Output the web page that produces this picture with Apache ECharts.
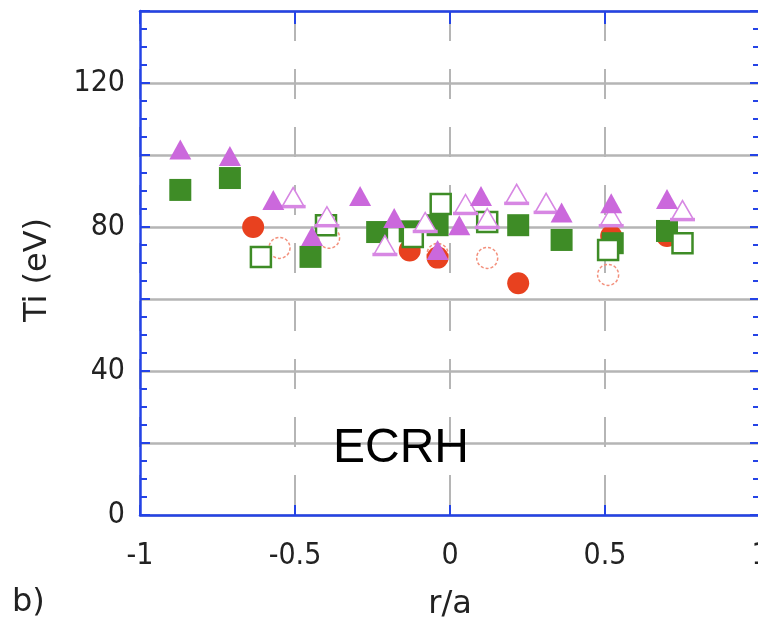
<!DOCTYPE html>
<html>
<head>
<meta charset="utf-8">
<script src="https://cdn.jsdelivr.net/npm/echarts@6/dist/echarts.min.js"></script>
<style>
html,body{margin:0;padding:0;background:#fff;}
#chart{width:758px;height:622px;}
</style>
</head>
<body>
<div id="chart"></div>
<script>
// ---- data (r/a, Ti in eV) ----
const xTickLabels = ['-1', '-0.5', '0', '0.5', '1'];
const yTickLabels = [0, 40, 80, 120];

const filledTriX = [-0.87, -0.71, -0.57, -0.445, -0.29, -0.18, -0.04, 0.03, 0.10, 0.36, 0.52, 0.70];
const filledTriY = [101.5, 99.7, 87.5, 77.5, 88.6, 82.5, 73.6, 80.5, 88.6, 84.0, 86.6, 87.8];

const openTriX = [-0.506, -0.397, -0.21, -0.08, 0.05, 0.12, 0.215, 0.31, 0.52, 0.75];
const openTriY = [88.3, 83.0, 75.0, 81.4, 86.4, 82.5, 89.2, 86.7, 83.0, 84.7];

const filledSqX = [-0.87, -0.71, -0.45, -0.235, -0.13, -0.04, 0.22, 0.36, 0.525, 0.70];
const filledSqY = [90.3, 93.6, 71.7, 78.6, 78.8, 80.5, 80.5, 76.4, 75.5, 78.9];

const openSqX = [-0.61, -0.40, -0.12, -0.03, 0.12, 0.51, 0.75];
const openSqY = [71.7, 80.5, 77.2, 86.4, 81.4, 73.6, 75.5];

const filledCircX = [-0.635, -0.13, -0.04, 0.22, 0.52, 0.70];
const filledCircY = [80.0, 73.5, 71.5, 64.4, 77.5, 77.5];

const openCircX = [-0.55, -0.39, -0.04, 0.12, 0.51];
const openCircY = [74.2, 77.0, 72.5, 71.4, 66.7];

function pairs(xs, ys) { return xs.map((x, i) => [x, ys[i]]); }

const BLUE = '#2443e6';
const GRID = '#b5b5b5';
const VIOLET = '#cb68dc';
const VIOLET_LIGHT = '#d787e3';
const GREEN = '#3e8c26';
const RED = '#e8411f';
const PINK = '#f3907c';

const chart = echarts.init(document.getElementById('chart'), null, {renderer: 'canvas'});

const tickFont = {fontFamily: "'DejaVu Sans Condensed','DejaVu Sans',sans-serif", fontSize: 30, color: '#222'};

const option = {
  animation: false,
  backgroundColor: '#fff',
  grid: {left: 140, top: 11, width: 620, height: 504, show: false, containLabel: false, outerBoundsMode: 'none'},
  xAxis: [
    {
      type: 'value', min: -1, max: 1, interval: 0.5, position: 'bottom',
      axisLine: {show: true, onZero: false, lineStyle: {color: BLUE, width: 2.5}},
      axisTick: {show: true, inside: true, length: 10, lineStyle: {color: BLUE, width: 2}},
      axisLabel: Object.assign({margin: 26, formatter: v => xTickLabels[Math.round((v + 1) * 2)] ?? ''}, tickFont),
      splitLine: {show: true, lineStyle: {color: GRID, width: 2, type: [30, 28]}},
      name: 'r/a', nameLocation: 'middle', nameGap: 74,
      nameTextStyle: {fontFamily: "'DejaVu Sans',sans-serif", fontSize: 32, color: '#222'}
    },
    {
      type: 'value', min: -1, max: 1, interval: 0.5, position: 'top',
      axisLine: {show: true, onZero: false, lineStyle: {color: BLUE, width: 2.5}},
      axisTick: {show: true, inside: true, length: 13, lineStyle: {color: BLUE, width: 2}},
      axisLabel: {show: false}, splitLine: {show: false}
    }
  ],
  yAxis: [
    {
      type: 'value', min: 0, max: 140, interval: 20, position: 'left',
      axisLine: {show: true, onZero: false, lineStyle: {color: BLUE, width: 2.5}},
      axisTick: {show: true, inside: true, length: 10, lineStyle: {color: BLUE, width: 2}},
      minorTick: {show: true, splitNumber: 4, length: 7, lineStyle: {color: BLUE, width: 2}},
      axisLabel: Object.assign({margin: 15, formatter: v => yTickLabels.includes(v) ? String(v) : ''}, tickFont),
      splitLine: {show: true, lineStyle: {color: GRID, width: 2.5}}
    },
    {
      type: 'value', min: 0, max: 140, interval: 20, position: 'right',
      axisLine: {show: true, onZero: false, lineStyle: {color: BLUE, width: 2.5}},
      axisTick: {show: true, inside: true, length: 10, lineStyle: {color: BLUE, width: 2}},
      minorTick: {show: true, splitNumber: 4, length: 7, lineStyle: {color: BLUE, width: 2}},
      axisLabel: {show: false}, splitLine: {show: false}
    }
  ],
  graphic: [
    {type: 'text', left: 333, top: 425, z: 100,
     style: {text: 'ECRH', fontFamily: "'Liberation Sans',Arial,sans-serif", fontSize: 48, fill: '#000'}},
    {type: 'text', x: 38, y: 270, rotation: Math.PI / 2, z: 100,
     style: {text: 'Ti (eV)', fontFamily: "'DejaVu Sans',sans-serif", fontSize: 32, fill: '#222', align: 'center', verticalAlign: 'middle'}},
    {type: 'text', x: 12, y: 603, z: 100,
     style: {text: 'b)', fontFamily: "'DejaVu Sans',sans-serif", fontSize: 32, fill: '#222', align: 'left', verticalAlign: 'middle'}}
  ],
  series: [
    {type: 'scatter', name: 'open circles', data: pairs(openCircX, openCircY), symbol: 'circle', symbolSize: 21,
     itemStyle: {opacity: 1, color: 'rgba(255,255,255,0)', borderColor: PINK, borderWidth: 1.5, borderType: [3, 2]}},
    {type: 'scatter', name: 'filled circles', data: pairs(filledCircX, filledCircY), symbol: 'circle', symbolSize: 22,
     itemStyle: {opacity: 1, color: RED}},
    {type: 'scatter', name: 'filled squares', data: pairs(filledSqX, filledSqY), symbol: 'rect', symbolSize: 22,
     itemStyle: {opacity: 1, color: GREEN}},
    {type: 'scatter', name: 'open squares', data: pairs(openSqX, openSqY), symbol: 'rect', symbolSize: 20,
     itemStyle: {opacity: 1, color: '#fff', borderColor: GREEN, borderWidth: 2.5}},
    {type: 'scatter', name: 'open triangles', data: pairs(openTriX, openTriY), symbol: 'triangle', symbolSize: [22, 19],
     itemStyle: {opacity: 1, color: '#fff', borderColor: VIOLET_LIGHT, borderWidth: 1.5}},
    {type: 'scatter', name: 'open triangles base', data: pairs(openTriX, openTriY), symbol: 'rect', symbolSize: [25, 3.5],
     symbolOffset: [0, 9.5], itemStyle: {opacity: 1, color: VIOLET_LIGHT}, silent: true},
    {type: 'scatter', name: 'filled triangles', data: pairs(filledTriX, filledTriY), symbol: 'triangle', symbolSize: [22, 20],
     itemStyle: {opacity: 1, color: VIOLET}}
  ]
};
chart.setOption(option);
</script>
</body>
</html>
